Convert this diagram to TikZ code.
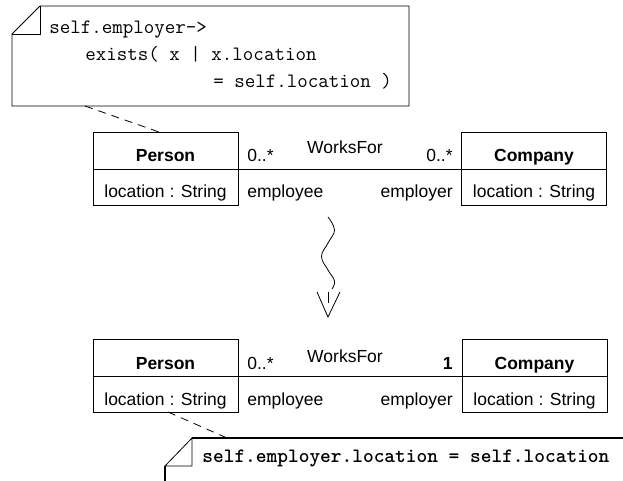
\documentclass[tikz,border=0pt]{standalone}
\usepackage{fontspec}
\setmainfont{Liberation Sans}
\begin{document}
\begin{tikzpicture}[x=1pt,y=-1pt, line width=0.8pt,
  lbl/.style={inner sep=0pt, font=\fontsize{17.5}{21}\selectfont},
  bl/.style={inner sep=0pt, font=\fontsize{17.5}{21}\selectfont\bfseries},
  code/.style={inner sep=0pt, font=\fontsize{20.4}{24}\selectfont\ttfamily},
  boldcode/.style={inner sep=0pt, font=\fontsize{20.4}{24}\selectfont\ttfamily\bfseries},
  classbox/.style={draw, minimum width=145pt, minimum height=73pt, inner sep=0pt},
  notedash/.style={dash pattern=on 8pt off 6pt}]
\clip (0,0) rectangle (623,481);

% ---------- top note ----------
\draw (40,6) -- (409,6) -- (409,106) -- (12,106) -- (12,34) -- cycle;
\draw (12,34) -- (40,34) -- (40,6);
\node[code, anchor=base west] (t1) at (49,34) {self.employer->};
\node[code, anchor=base west] (t2) at (85,61) {exists( x | x.location};
\node[code, anchor=base west] (t3) at (213,88) {= self.location )};
\coordinate (n1) at (85,106);

% ---------- top classes ----------
\node[classbox] (p1) at (165.5,168.5) {};
\node[classbox] (c1) at (534,168.5) {};
\coordinate (d1) at (0,169);
\draw (p1.west |- d1) -- (p1.east |- d1);
\draw (c1.west |- d1) -- (c1.east |- d1);
\draw (p1.east |- d1) -- (c1.west |- d1);
\node[bl, anchor=base] (p1n) at (165.5,161) {Person};
\node[lbl, anchor=base] (p1a) at (165.5,197) {location : String};
\node[bl, anchor=base] (c1n) at (534,161) {Company};
\node[lbl, anchor=base] (c1a) at (534,197) {location : String};
\node[lbl, anchor=base west] (m1a) at (247,161) {0..*};
\node[lbl, anchor=base] (wf1) at (345,154) {WorksFor};
\node[lbl, anchor=base east] (m1b) at (453,161) {0..*};
\node[lbl, anchor=base west] (r1a) at (247,197) {employee};
\node[lbl, anchor=base east] (r1b) at (453,197) {employer};
\coordinate (p1t) at (159,132);
\draw[notedash] (n1) -- (p1t);

% ---------- refinement arrow ----------
\draw plot[smooth, tension=0.7] coordinates {(328,217) (334.5,230) (328,243) (321.5,256.5) (328,270) (334.5,281) (332,289)};
\coordinate (a1) at (328,292);
\coordinate (a2) at (328,303);
\coordinate (tip) at (328,317);
\draw (a1) -- (a2);
\draw (317,292) -- (tip) -- (340,292);

% ---------- bottom classes ----------
\node[classbox] (p2) at (165.5,375.5) {};
\node[classbox] (c2) at (534.5,375.5) {};
\coordinate (d2) at (0,376.5);
\draw (p2.west |- d2) -- (p2.east |- d2);
\draw (c2.west |- d2) -- (c2.east |- d2);
\draw (p2.east |- d2) -- (c2.west |- d2);
\node[bl, anchor=base] (p2n) at (165.5,369) {Person};
\node[lbl, anchor=base] (p2a) at (165.5,405) {location : String};
\node[bl, anchor=base] (c2n) at (534.5,369) {Company};
\node[lbl, anchor=base] (c2a) at (534.5,405) {location : String};
\node[lbl, anchor=base west] (m2a) at (247,369) {0..*};
\node[lbl, anchor=base] (wf2) at (345,362) {WorksFor};
\node[bl, anchor=base east] (m2b) at (453,369) {1};
\node[lbl, anchor=base west] (r2a) at (247,405) {employee};
\node[lbl, anchor=base east] (r2b) at (453,405) {employer};

% ---------- bottom note ----------
\draw[line width=1.6pt] (192,438) -- (640,438);
\draw[line width=1.6pt] (165,466) -- (165,500);
\draw (165,466) -- (192,438) -- (192,466) -- cycle;
\node[boldcode, anchor=base west] (b1) at (202,462) {self.employer.location = self.location};
\coordinate (p2b) at (168,412);
\coordinate (n2) at (227,438);
\draw[notedash] (p2b) -- (n2);
\end{tikzpicture}
\end{document}
